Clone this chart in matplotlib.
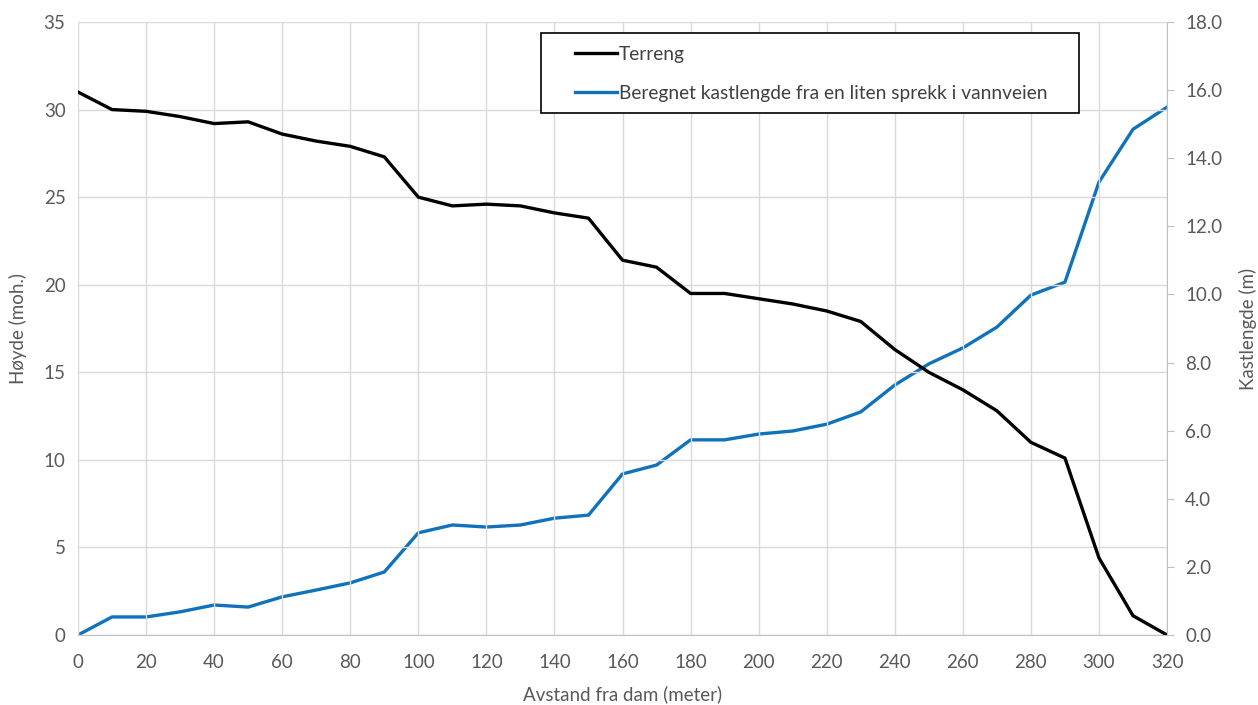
import matplotlib
matplotlib.use("Agg")
import matplotlib.pyplot as plt
from matplotlib.patches import Rectangle

plt.rcParams['font.family'] = ['Lato', 'DejaVu Sans']

# data
avstand = [0, 10, 20, 30, 40, 50, 60, 70, 80, 90, 100, 110, 120, 130, 140, 150, 160,
           170, 180, 190, 200, 210, 220, 230, 240, 250, 260, 270, 280, 290, 300, 310, 320]
terreng = [31.0, 30.0, 29.9, 29.6, 29.2, 29.3, 28.6, 28.2, 27.9, 27.3, 25.0, 24.5, 24.6,
           24.5, 24.1, 23.8, 21.4, 21.0, 19.5, 19.5, 19.2, 18.9, 18.5, 17.9, 16.3, 15.0,
           14.0, 12.8, 11.0, 10.1, 4.4, 1.1, 0.0]
kastlengde = [0.0, 0.53, 0.53, 0.68, 0.88, 0.82, 1.12, 1.32, 1.53, 1.85, 3.0, 3.23, 3.17,
              3.23, 3.43, 3.52, 4.73, 4.99, 5.73, 5.73, 5.9, 5.99, 6.19, 6.55, 7.34, 7.96,
              8.43, 9.04, 9.98, 10.36, 13.3, 14.85, 15.5]

grey = '#595959'
fs = 13.5

fig = plt.figure(figsize=(12.58, 7.05), dpi=100)
ax = fig.add_axes([0.062, 0.0993, 0.8657, 0.8695])
ax2 = ax.twinx()

l1, = ax.plot(avstand, terreng, color='black', lw=2.4, label='Terreng', zorder=3)
l2, = ax2.plot(avstand, kastlengde, color='#1072BA', lw=2.4,
               label='Beregnet kastlengde fra en liten sprekk i vannveien', zorder=3)

ax.set_xlim(0, 320)
ax.set_ylim(0, 35)
ax2.set_ylim(0, 18)
ax.set_xticks(range(0, 321, 20))
ax.set_yticks(range(0, 36, 5))
ax2.set_yticks(range(0, 19, 2))
ax2.set_yticklabels([f'{v:.1f}' for v in range(0, 19, 2)])

ax.grid(True, color='#d9d9d9', lw=1)
ax.set_axisbelow(True)

for s in ['top', 'left', 'right']:
    ax.spines[s].set_visible(False)
for s in ['top', 'left', 'bottom']:
    ax2.spines[s].set_visible(False)
ax.spines['bottom'].set_color('#bfbfbf')
ax2.spines['right'].set_color('#bfbfbf')

ax.tick_params(axis='x', length=0, labelsize=fs, labelcolor=grey, pad=14)
ax.tick_params(axis='y', length=0, labelsize=fs, labelcolor=grey, pad=9)
ax2.tick_params(axis='y', length=5, color='#bfbfbf', labelsize=fs, labelcolor=grey, pad=8)

ax.set_xlabel('Avstand fra dam (meter)', fontsize=fs, color=grey, labelpad=10)
ax.set_ylabel('Høyde (moh.)', fontsize=fs, color=grey, labelpad=12)
ax2.set_ylabel('Kastlengde (m)', fontsize=fs, color=grey, labelpad=12)

# legend box drawn separately, legend itself without frame
ax.add_patch(Rectangle((0.4252, 0.8515), 0.4938, 0.1305, transform=ax.transAxes,
                       facecolor='white', edgecolor='black', lw=1.2, zorder=4))
leg = ax.legend(handles=[l1, l2], loc='upper left', bbox_to_anchor=(0.4564, 0.961),
                fontsize=13.8, frameon=False, handlelength=2.2, handletextpad=0.1,
                borderpad=0, labelspacing=1.15, borderaxespad=0)
for t in leg.get_texts():
    t.set_color('#404040')
leg.set_zorder(5)
ax.set_zorder(ax2.get_zorder() + 1)
ax.patch.set_visible(False)

fig.savefig('out.png', dpi=100)
